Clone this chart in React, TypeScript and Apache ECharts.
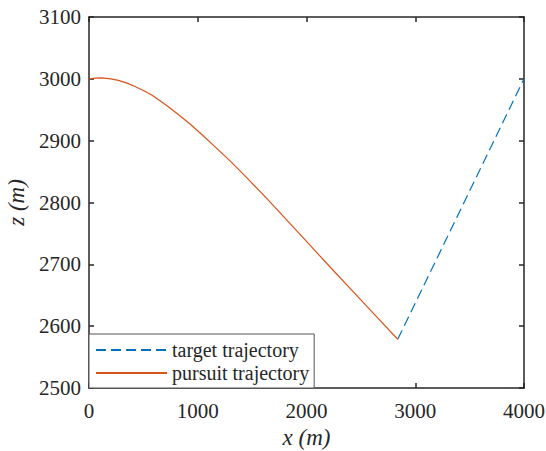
import React, { useEffect, useRef } from "react";
import * as echarts from "echarts";

const targetTrajectory: [number, number][] = [
  [2839, 2578.8],
  [4000, 3000],
];

const pursuitTrajectory: [number, number][] = [
  [0, 3000], [60, 3001.3], [120, 3001.5], [200, 3000], [270, 2997.5], [350, 2993],
  [423, 2987.5], [500, 2981], [577, 2974], [650, 2965], [730, 2955], [830, 2941],
  [929, 2927], [1050, 2908], [1170, 2888.4], [1297, 2867.4], [1450, 2840.3], [1634, 2806.6],
  [1800, 2775], [2000, 2737], [2232, 2692.9], [2450, 2651.9], [2650, 2614.3], [2839, 2578.8],
];

const xRange = { min: 0, max: 4000, interval: 1000 };
const yRange = { min: 2500, max: 3100, interval: 100 };

const FONT = "Tinos, 'Nimbus Roman', FreeSerif, 'DejaVu Serif'";
const TEXT = "#262626";

export default function App() {
  const ref = useRef<HTMLDivElement>(null);
  useEffect(() => {
    document.body.style.margin = "0";
    if (!ref.current) return;
    const chart = echarts.init(ref.current, undefined, { renderer: "svg" });
    const axisCommon = {
      type: "value" as const,
      axisLine: { show: true, onZero: false, lineStyle: { color: TEXT, width: 1.5 } },
      axisTick: { show: true, inside: true, length: 5, lineStyle: { color: TEXT, width: 1.5 } },
      splitLine: { show: false },
    };
    const fmt = (v: number) => String(v);
    chart.setOption({
      animation: false,
      backgroundColor: "#ffffff",
      grid: {
        left: 89,
        right: 22,
        top: 17,
        bottom: 63,
        containLabel: false,
        outerBoundsMode: "none",
      },
      xAxis: [
        {
          ...axisCommon,
          ...xRange,
          position: "bottom",
          name: "x (m)",
          nameLocation: "middle",
          nameGap: 38,
          nameTextStyle: { fontFamily: FONT, fontSize: 23, fontStyle: "italic", color: TEXT },
          axisLabel: { fontFamily: FONT, fontSize: 21, color: TEXT, margin: 12, formatter: fmt },
        },
        {
          ...axisCommon,
          ...xRange,
          position: "top",
          axisLabel: { show: false },
        },
      ],
      yAxis: [
        {
          ...axisCommon,
          ...yRange,
          position: "left",
          name: "z (m)",
          nameLocation: "middle",
          nameGap: 55,
          nameTextStyle: { fontFamily: FONT, fontSize: 23, fontStyle: "italic", color: TEXT },
          axisLabel: { fontFamily: FONT, fontSize: 21, color: TEXT, margin: 8, formatter: fmt },
        },
        {
          ...axisCommon,
          ...yRange,
          position: "right",
          axisLabel: { show: false },
        },
      ],
      legend: {
        orient: "vertical",
        left: 89,
        top: 334,
        backgroundColor: "#ffffff",
        borderColor: "#555555",
        borderWidth: 1,
        padding: [6, 5, 5, 6],
        itemGap: 3,
        itemWidth: 71,
        itemHeight: 20,
        itemStyle: { opacity: 0 },
        textStyle: { fontFamily: FONT, fontSize: 20, lineHeight: 20, color: TEXT },
        data: ["target trajectory", "pursuit trajectory"],
      },
      series: [
        {
          name: "target trajectory",
          type: "line",
          data: targetTrajectory,
          symbol: "none",
          showSymbol: false,
          lineStyle: { color: "#0072BD", width: 1.2, type: [10, 5] },
          itemStyle: { color: "#0072BD" },
        },
        {
          name: "pursuit trajectory",
          type: "line",
          data: pursuitTrajectory,
          symbol: "none",
          showSymbol: false,
          smooth: false,
          lineStyle: { color: "#D95319", width: 1.2 },
          itemStyle: { color: "#D95319" },
        },
      ],
    });
    return () => chart.dispose();
  }, []);
  return <div ref={ref} style={{ width: 546, height: 451 }} />;
}
